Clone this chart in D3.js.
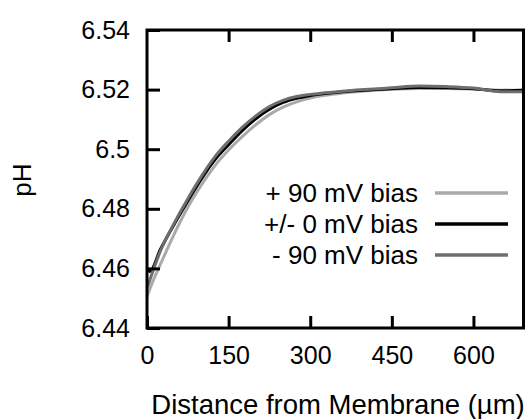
<!DOCTYPE html>
<html>
<head>
<meta charset="utf-8">
<script src="https://cdn.jsdelivr.net/npm/d3@7"></script>
<style>
  body { margin: 0; background: #fff; }
  text { font-family: "Liberation Sans", Arial, sans-serif; fill: #000; }
</style>
</head>
<body>
<div class="chart"></div>
<script>
// distance from membrane (um)
var distance = [0, 5, 25, 50, 75, 100, 125, 150, 175, 200, 225, 250, 275, 300, 350, 400, 450, 500, 550, 600, 650, 692];

// pH for each bias
var phPlus90  = [6.4505, 6.4530, 6.4615, 6.4715, 6.4805, 6.4880, 6.4945, 6.4997, 6.5042, 6.5082, 6.5116, 6.5141, 6.5159, 6.5172, 6.5186, 6.5195, 6.5201, 6.5204, 6.5204, 6.5202, 6.5198, 6.5199];
var phZero    = [6.4595, 6.4590, 6.4665, 6.4748, 6.4826, 6.4900, 6.4965, 6.5015, 6.5062, 6.5102, 6.5134, 6.5157, 6.5171, 6.5180, 6.5191, 6.5198, 6.5203, 6.5207, 6.5206, 6.5203, 6.5196, 6.5198];
var phMinus90 = [6.4535, 6.4560, 6.4660, 6.4752, 6.4834, 6.4909, 6.4975, 6.5027, 6.5073, 6.5112, 6.5143, 6.5164, 6.5177, 6.5184, 6.5193, 6.5200, 6.5206, 6.5212, 6.5210, 6.5205, 6.5193, 6.5193];

var xTicks = [0, 150, 300, 450, 600];
var yTicks = [6.44, 6.46, 6.48, 6.50, 6.52, 6.54];
var yTickLabels = ["6.44", "6.46", "6.48", "6.5", "6.52", "6.54"];

var seriesNames = ["+ 90 mV bias", "+/- 0 mV bias", "- 90 mV bias"];
var seriesColors = ["#aaaaaa", "#000000", "#6e6e6e"];

var svgWidth = 526;
var svgHeight = 419;

var margin = {
  top: 30,
  right: 2.5,
  bottom: 91,
  left: 147
};

var width = svgWidth - margin.left - margin.right;
var height = svgHeight - margin.top - margin.bottom;

var svg = d3
  .select(".chart")
  .append("svg")
  .attr("width", svgWidth)
  .attr("height", svgHeight);

var chartGroup = svg.append("g")
  .attr("transform", `translate(${margin.left}, ${margin.top})`);

var xLinearScale = d3.scaleLinear()
  .domain([0, 692])
  .range([0, width]);

var yLinearScale = d3.scaleLinear()
  .domain([6.44, 6.54])
  .range([height, 0]);

// curves
var series = [phPlus90, phZero, phMinus90];
var line = d3.line()
  .x((d, i) => xLinearScale(distance[i]))
  .y(d => yLinearScale(d))
  .curve(d3.curveMonotoneX);

series.forEach(function(values, i) {
  chartGroup.append("path")
    .datum(values)
    .attr("fill", "none")
    .attr("stroke", seriesColors[i])
    .attr("stroke-width", 3)
    .attr("stroke-linejoin", "round")
    .attr("d", line);
});

// frame
chartGroup.append("rect")
  .attr("x", 0)
  .attr("y", 0)
  .attr("width", width)
  .attr("height", height)
  .attr("fill", "none")
  .attr("stroke", "#000")
  .attr("stroke-width", 3);

// ticks point inward, bottom + top
var bottomAxis = d3.axisBottom(xLinearScale)
  .tickValues(xTicks)
  .tickSizeInner(-12)
  .tickSizeOuter(0)
  .tickPadding(18);

var xAxisG = chartGroup.append("g")
  .attr("transform", `translate(0, ${height})`)
  .call(bottomAxis);
xAxisG.select(".domain").remove();
xAxisG.selectAll("line").attr("stroke-width", 3);
xAxisG.selectAll("text")
  .style("font-size", "25px")
  .style("font-family", "Liberation Sans, Arial, sans-serif");

var topAxis = d3.axisTop(xLinearScale)
  .tickValues(xTicks.slice(1))
  .tickSizeInner(-12)
  .tickSizeOuter(0)
  .tickFormat("");
var topG = chartGroup.append("g").call(topAxis);
topG.select(".domain").remove();
topG.selectAll("line").attr("stroke-width", 3);

var leftAxis = d3.axisLeft(yLinearScale)
  .tickValues(yTicks)
  .tickSizeInner(-13)
  .tickSizeOuter(0)
  .tickPadding(17)
  .tickFormat((d, i) => yTickLabels[i]);
var yAxisG = chartGroup.append("g").call(leftAxis);
yAxisG.select(".domain").remove();
yAxisG.selectAll("line").attr("stroke-width", 3);
yAxisG.selectAll("text")
  .style("font-size", "25px")
  .style("font-family", "Liberation Sans, Arial, sans-serif");

// axis titles
svg.append("text")
  .attr("x", 338)
  .attr("y", 414)
  .attr("text-anchor", "middle")
  .style("font-size", "27.5px")
  .text("Distance from Membrane (\u00b5m)");

svg.append("text")
  .attr("transform", "translate(31, 180) rotate(-90)")
  .attr("text-anchor", "middle")
  .style("font-size", "26px")
  .text("pH");

// legend
var legendRows = [193, 224, 255];
seriesNames.forEach(function(name, i) {
  svg.append("text")
    .attr("x", 418)
    .attr("y", legendRows[i] + 9)
    .attr("text-anchor", "end")
    .style("font-size", "26px")
    .text(name);
  svg.append("line")
    .attr("x1", 435)
    .attr("x2", 508)
    .attr("y1", legendRows[i])
    .attr("y2", legendRows[i])
    .attr("stroke", seriesColors[i])
    .attr("stroke-width", 3.5);
});
</script>
</body>
</html>
